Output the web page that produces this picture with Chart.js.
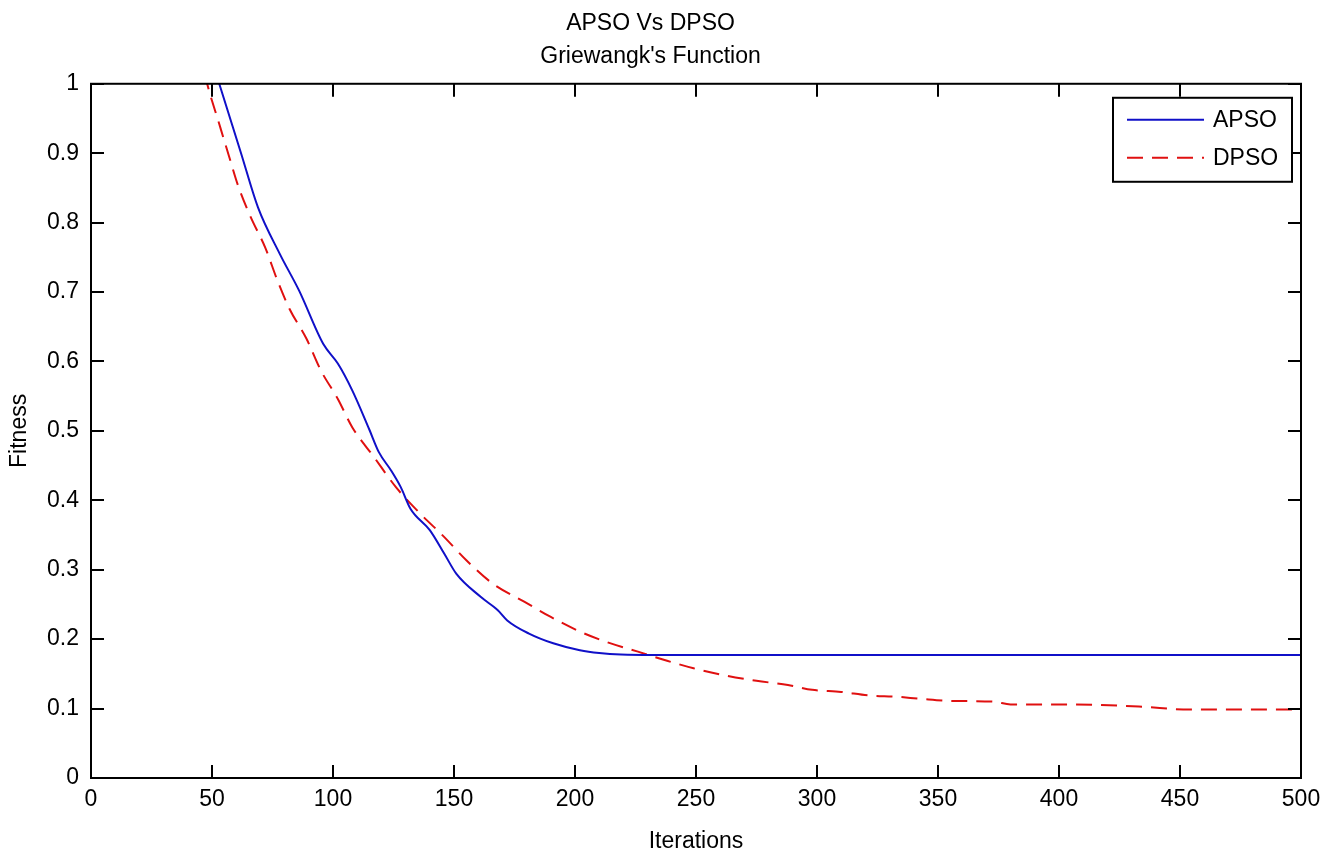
<!DOCTYPE html>
<html>
<head>
<meta charset="utf-8">
<title>APSO Vs DPSO</title>
<script src="https://cdn.jsdelivr.net/npm/chart.js@4.4.1/dist/chart.umd.min.js"></script>
<style>
  html, body { margin: 0; padding: 0; background: #fff; }
  #wrap { width: 1334px; height: 855px; }
</style>
</head>
<body>
<div id="wrap"><canvas id="chart" width="1334" height="855"></canvas></div>
<script>
// values
var apsoIter = [45, 53, 62, 69, 78, 86, 96, 102, 108, 115, 119, 124, 128, 132, 140, 146, 151, 161, 168, 172, 181, 191, 202, 210, 219, 250, 300, 350, 400, 450, 500];
var apsoFit  = [1.09, 1.0, 0.9, 0.822, 0.755, 0.702, 0.625, 0.597, 0.558, 0.502, 0.469, 0.443, 0.419, 0.388, 0.357, 0.323, 0.294, 0.261, 0.242, 0.227, 0.208, 0.194, 0.184, 0.180, 0.178, 0.177, 0.177, 0.177, 0.177, 0.177, 0.177];

var dpsoIter = [40, 48, 53, 57, 61, 66, 72, 77, 82, 89, 95, 102, 108, 117, 126, 136, 146, 155, 166, 179, 190, 202, 213, 226, 237, 249, 263, 275, 288, 298, 310, 321, 333, 343, 356, 373, 380, 400, 433, 454, 500];
var dpsoFit  = [1.12, 1.0, 0.942, 0.896, 0.851, 0.808, 0.764, 0.717, 0.676, 0.633, 0.587, 0.546, 0.505, 0.462, 0.419, 0.381, 0.347, 0.314, 0.280, 0.254, 0.232, 0.211, 0.196, 0.182, 0.170, 0.158, 0.147, 0.140, 0.134, 0.127, 0.124, 0.119, 0.117, 0.114, 0.111, 0.110, 0.106, 0.106, 0.103, 0.0985, 0.0985];

var xTicks = [0, 50, 100, 150, 200, 250, 300, 350, 400, 450, 500];
var yTicks = [0, 0.1, 0.2, 0.3, 0.4, 0.5, 0.6, 0.7, 0.8, 0.9, 1];
var titleLines = ['APSO Vs DPSO', "Griewangk's Function"];

function toPoints(xs, ys) {
    return xs.map(function(x, i) { return { x: x, y: ys[i] }; });
}

var FONT = '"Liberation Sans", Arial, sans-serif';

// box with inward ticks on all four sides, like the matlab axes
var frameTicks = {
    id: 'frameTicks',
    afterDatasetsDraw: function(chart) {
        var ctx = chart.ctx, a = chart.chartArea;
        var xs = chart.scales.x, ys = chart.scales.y;
        var len = 13;
        ctx.save();
        ctx.strokeStyle = '#000';
        ctx.lineWidth = 2;
        ctx.beginPath();
        xTicks.forEach(function(v) {
            var px = Math.round(xs.getPixelForValue(v));
            ctx.moveTo(px, a.bottom); ctx.lineTo(px, a.bottom - len);
            ctx.moveTo(px, a.top); ctx.lineTo(px, a.top + len);
        });
        yTicks.forEach(function(v) {
            var py = Math.round(ys.getPixelForValue(v));
            ctx.moveTo(a.left, py); ctx.lineTo(a.left + len, py);
            ctx.moveTo(a.right, py); ctx.lineTo(a.right - len, py);
        });
        ctx.stroke();
        ctx.strokeRect(a.left, a.top, a.right - a.left, a.bottom - a.top);
        ctx.restore();
    }
};

// legend box in the top-right corner of the plot
var boxLegend = {
    id: 'boxLegend',
    afterDraw: function(chart) {
        var ctx = chart.ctx, a = chart.chartArea;
        var w = 179, h = 84;
        var left = a.right - 9 - w, top = a.top + 14;
        ctx.save();
        ctx.fillStyle = '#fff';
        ctx.fillRect(left, top, w, h);
        ctx.strokeStyle = '#000';
        ctx.lineWidth = 2;
        ctx.strokeRect(left, top, w, h);
        ctx.font = '23px ' + FONT;
        ctx.textBaseline = 'middle';
        ctx.textAlign = 'left';
        chart.data.datasets.forEach(function(ds, i) {
            var y = top + 22 + i * 38;
            ctx.beginPath();
            ctx.strokeStyle = ds.borderColor;
            ctx.lineWidth = ds.borderWidth;
            ctx.setLineDash(ds.borderDash || []);
            ctx.moveTo(left + 14, y);
            ctx.lineTo(left + 91, y);
            ctx.stroke();
            ctx.setLineDash([]);
            ctx.fillStyle = '#000';
            ctx.fillText(ds.label, left + 100, y + 1);
        });
        ctx.restore();
    }
};

new Chart(document.getElementById('chart'), {
    type: 'line',
    data: {
        datasets: [
            {
                label: 'APSO',
                data: toPoints(apsoIter, apsoFit),
                borderColor: '#1010c8',
                borderWidth: 2,
                pointRadius: 0,
                cubicInterpolationMode: 'monotone'
            },
            {
                label: 'DPSO',
                data: toPoints(dpsoIter, dpsoFit),
                borderColor: '#e01010',
                borderWidth: 2,
                borderDash: [16, 9],
                pointRadius: 0,
                cubicInterpolationMode: 'monotone'
            }
        ]
    },
    options: {
        responsive: false,
        animation: false,
        devicePixelRatio: 1,
        layout: { padding: { left: 0, right: 33, top: 0, bottom: 0 } },
        plugins: {
            legend: { display: false },
            tooltip: { enabled: false },
            title: {
                display: true,
                text: titleLines,
                color: '#000',
                font: { family: FONT, size: 23, weight: 'normal', lineHeight: 1.43 },
                padding: { top: 7, bottom: 11 }
            }
        },
        scales: {
            x: {
                type: 'linear',
                min: 0,
                max: 500,
                afterBuildTicks: function(s) { s.ticks = xTicks.map(function(v) { return { value: v }; }); },
                afterFit: function(s) { s.height = 77; },
                grid: { display: false, drawTicks: false },
                border: { display: false },
                ticks: {
                    color: '#000',
                    padding: 8,
                    maxRotation: 0,
                    font: { family: FONT, size: 23 }
                },
                title: {
                    display: true,
                    text: 'Iterations',
                    color: '#000',
                    font: { family: FONT, size: 23 },
                    padding: { top: 2, bottom: 0 }
                }
            },
            y: {
                type: 'linear',
                min: 0,
                max: 1,
                afterBuildTicks: function(s) { s.ticks = yTicks.map(function(v) { return { value: v }; }); },
                afterFit: function(s) { s.width = 91; },
                grid: { display: false, drawTicks: false },
                border: { display: false },
                ticks: {
                    color: '#000',
                    padding: 12,
                    font: { family: FONT, size: 23 },
                    callback: function(v) { return String(+v.toFixed(1)); }
                },
                title: {
                    display: true,
                    text: 'Fitness',
                    color: '#000',
                    font: { family: FONT, size: 23 },
                    padding: { top: 6, bottom: 0 }
                }
            }
        }
    },
    plugins: [frameTicks, boxLegend]
});
</script>
</body>
</html>
